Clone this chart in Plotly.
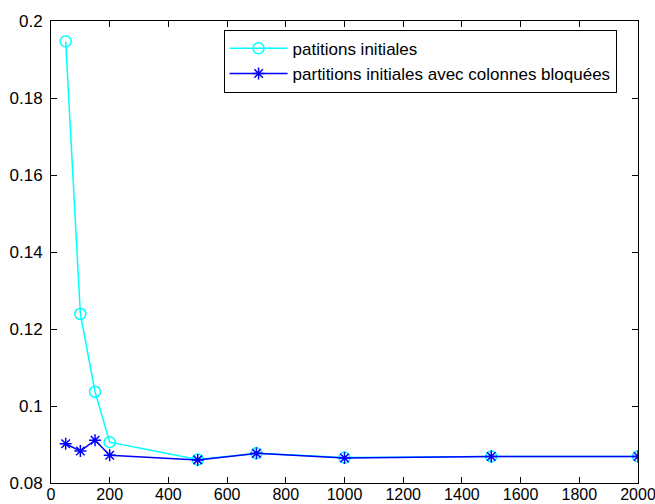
import plotly.graph_objects as go

x_vals = [50, 100, 150, 200, 500, 700, 1000, 1500, 2000]
y_init = [0.1947, 0.1239, 0.1037, 0.0906, 0.0861, 0.0877, 0.0866, 0.0869, 0.0869]
y_bloq = [0.0902, 0.0883, 0.0911, 0.0872, 0.0860, 0.0877, 0.0865, 0.0869, 0.0869]

name_init = "patitions initiales"
name_bloq = "partitions initiales avec colonnes bloquées"

x_ticks = list(range(0, 2001, 200))
y_ticks = [0.08, 0.1, 0.12, 0.14, 0.16, 0.18, 0.2]
y_ticklabels = ["0.08", "0.1", "0.12", "0.14", "0.16", "0.18", "0.2"]

FONT = "Liberation Sans, Arial, sans-serif"

fig = go.Figure()
fig.add_trace(go.Scatter(
    x=x_vals, y=y_init, mode="lines+markers", name=name_init,
    line=dict(color="#00FFFF", width=1.5),
    marker=dict(symbol="circle-open", size=11, color="#00FFFF", line=dict(width=1.5)),
))
fig.add_trace(go.Scatter(
    x=x_vals, y=y_bloq, mode="lines+markers", name=name_bloq,
    line=dict(color="#0000FF", width=1.5),
    marker=dict(symbol="asterisk-open", size=10, color="#0000FF", line=dict(width=1.5, color="#0000FF")),
))

axis_common = dict(
    showgrid=False, zeroline=False, showline=True, linecolor="black", linewidth=1,
    mirror="allticks", ticks="inside", ticklen=6, tickcolor="black",
    automargin=False, ticklabeloverflow="allow",
)

fig.update_layout(
    width=655, height=504,
    margin=dict(l=51, r=17, t=21, b=21, autoexpand=False),
    paper_bgcolor="white", plot_bgcolor="white",
    xaxis=dict(range=[0, 2000], tickvals=x_ticks, ticktext=[str(v) for v in x_ticks],
               tickfont=dict(family=FONT, size=16, color="black"),
               ticklabelstandoff=-3, **axis_common),
    yaxis=dict(range=[0.08, 0.2], tickvals=y_ticks, ticktext=y_ticklabels,
               tickfont=dict(family=FONT, size=17, color="black"),
               ticklabelstandoff=4, **axis_common),
    legend=dict(
        x=0.294, y=0.981, xanchor="left", yanchor="top",
        bgcolor="white", bordercolor="black", borderwidth=1,
        font=dict(family=FONT, size=17, color="black"),
        tracegroupgap=0, itemwidth=58,
    ),
    showlegend=True,
)

fig.write_html("out.html")
